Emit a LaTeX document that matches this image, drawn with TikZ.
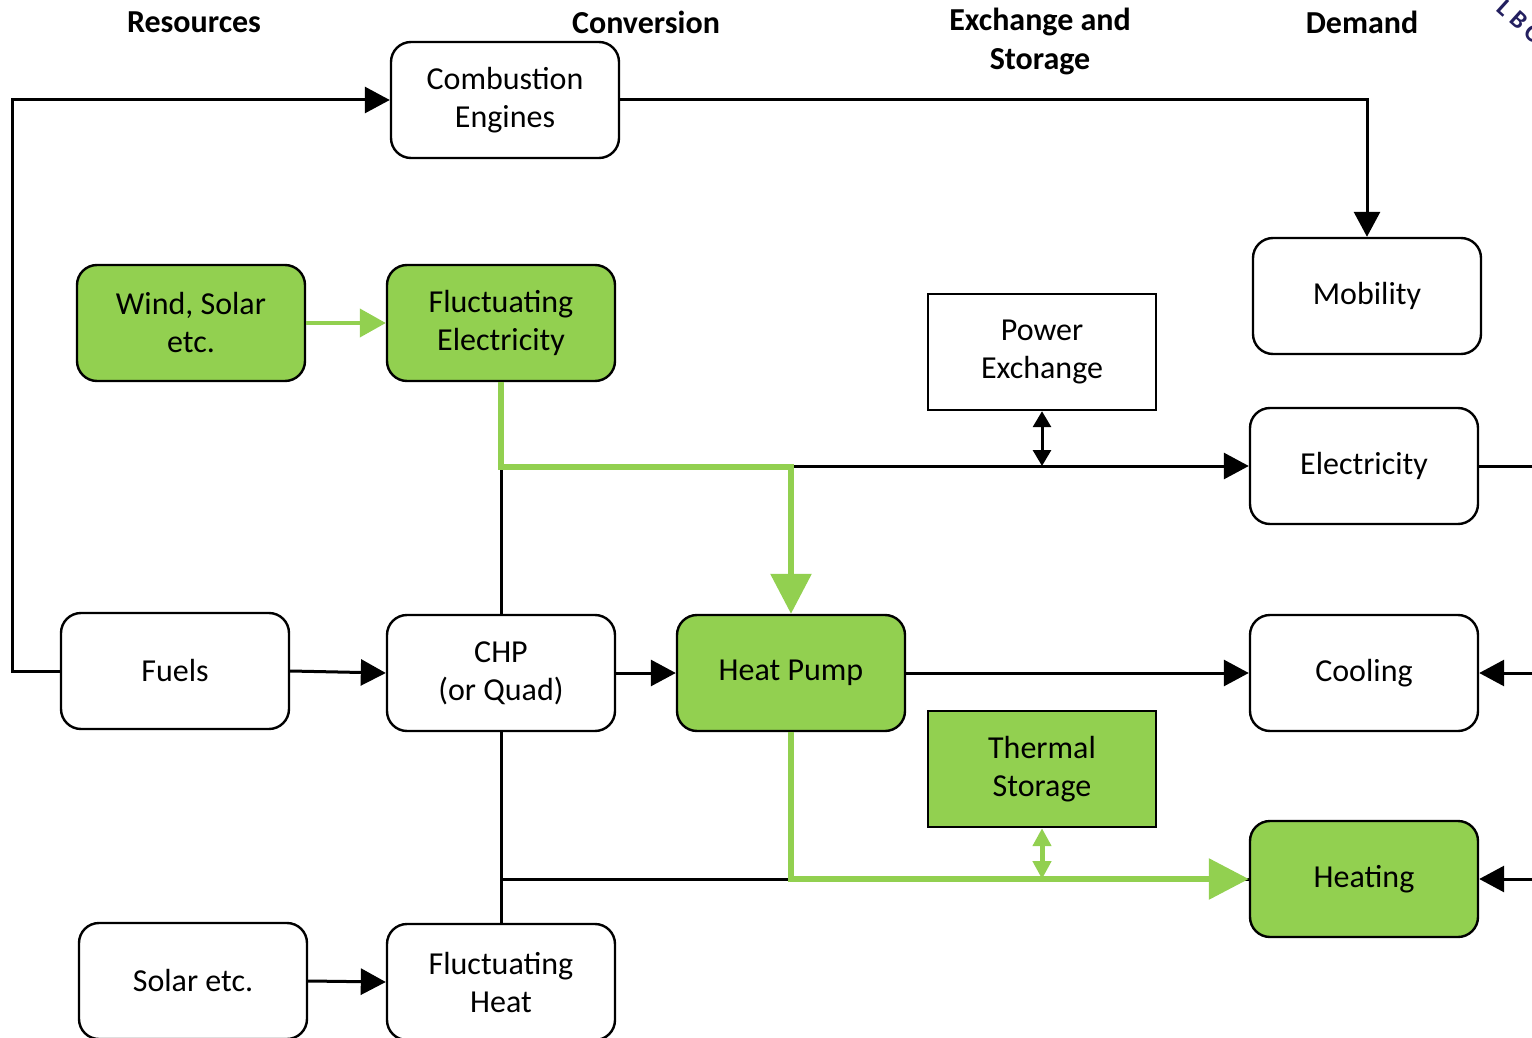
\documentclass[tikz,border=0pt]{standalone}
\usepackage{fontspec}
\setmainfont{Carlito}
\usetikzlibrary{arrows.meta}
\definecolor{leaf}{HTML}{92D050}
\definecolor{navy}{HTML}{231F5F}

\begin{document}
\begin{tikzpicture}[x=0.5pt,y=-0.5pt,font=\fontsize{16}{19}\selectfont]
  \tikzset{
    unit/.style={draw, line width=1.2pt, rounded corners=10pt, minimum width=114pt, minimum height=58pt, align=center, inner sep=0pt},
    greenunit/.style={unit, fill=leaf},
    store/.style={draw, line width=1.2pt, minimum width=114pt, minimum height=58pt, align=center, inner sep=0pt},
    header/.style={font=\fontsize{16}{19.5}\selectfont\bfseries, align=center},
    flow/.style={line width=1.5pt, -{Triangle[length=12.5pt,width=13pt]}},
    link/.style={line width=1.5pt},
    greenflow/.style={draw=leaf, line width=3pt, -{Triangle[length=20pt,width=20pt]}, leaf}
  }
  \useasboundingbox (0,0) rectangle (1532,1038);

  % column headers
  \node[header] (hres) at (194,22) {Resources};
  \node[header] (hconv) at (646,22) {Conversion};
  \node[header] (hexch) at (1040,41) {Exchange and\\Storage};
  \node[header] (hdem) at (1362,22) {Demand};
  \node[navy, rotate=-42, inner sep=0pt, font=\fontsize{12.5}{14}\selectfont\bfseries] (logo) at (1521,22) {L\hspace{3pt}B\hspace{3pt}O};

  % boxes
  \node[unit] (comb) at (505,100) {Combustion\\Engines};
  \node[greenunit] (windsolar) at (191,323) {Wind, Solar\\etc.};
  \node[greenunit] (fluctel) at (501,323) {Fluctuating\\Electricity};
  \node[store] (powerex) at (1042,352) {Power\\Exchange};
  \node[unit] (mobility) at (1367,296) {Mobility};
  \node[unit] (elec) at (1364,466) {Electricity};
  \node[unit] (fuels) at (175,671) {Fuels};
  \node[unit] (chp) at (501,673) {CHP\\(or Quad)};
  \node[greenunit] (heatpump) at (791,673) {Heat Pump};
  \node[unit] (cooling) at (1364,673) {Cooling};
  \node[store, fill=leaf] (thermal) at (1042,769) {Thermal\\Storage};
  \node[greenunit] (heating) at (1364,879) {Heating};
  \node[unit] (solar) at (193,981) {Solar etc.};
  \node[unit] (fluctheat) at (501,982) {Fluctuating\\Heat};

  \coordinate (leftrail) at (12,0);
  \coordinate (rightedge) at (1545,0);
  \coordinate (elbus) at (0,467);

  % black flows
  \draw[flow] (fuels.west) -- (fuels.west -| leftrail) |- (comb.west);
  \draw[flow] (comb.east) -| (mobility.north);
  \draw[flow] (chp.north) |- (elec.west);
  \draw[line width=1.5pt, {Triangle[length=8pt,width=9pt]}-{Triangle[length=8pt,width=9pt]}] (powerex.south) -- (powerex.south |- elec.west);
  \draw[link] (elec.east) -- (elec.east -| rightedge);
  \draw[flow] (fuels.east) -- (chp.west);
  \draw[flow] (chp.east) -- (heatpump.west);
  \draw[flow] (heatpump.east) -- (cooling.west);
  \draw[flow] (cooling.east -| rightedge) -- (cooling.east);
  \draw[link] (chp.south) -- (fluctheat.north);
  \draw[link] (chp.south |- heating.west) -- (heating.west);
  \draw[flow] (heating.east -| rightedge) -- (heating.east);
  \draw[flow] (solar.east) -- (fluctheat.west);

  % green flows
  \draw[leaf, line width=2pt, -{Triangle[length=13pt,width=14pt]}] (windsolar.east) -- (fluctel.west);
  \draw[greenflow] (fluctel.south) -- (fluctel.south |- elbus) -| (heatpump.north);
  \draw[greenflow] (heatpump.south) |- (heating.west);
  \draw[leaf, line width=2.5pt, {Triangle[length=9pt,width=9pt]}-{Triangle[length=9pt,width=9pt]}] (thermal.south) -- (thermal.south |- heating.west);
\end{tikzpicture}
\end{document}
